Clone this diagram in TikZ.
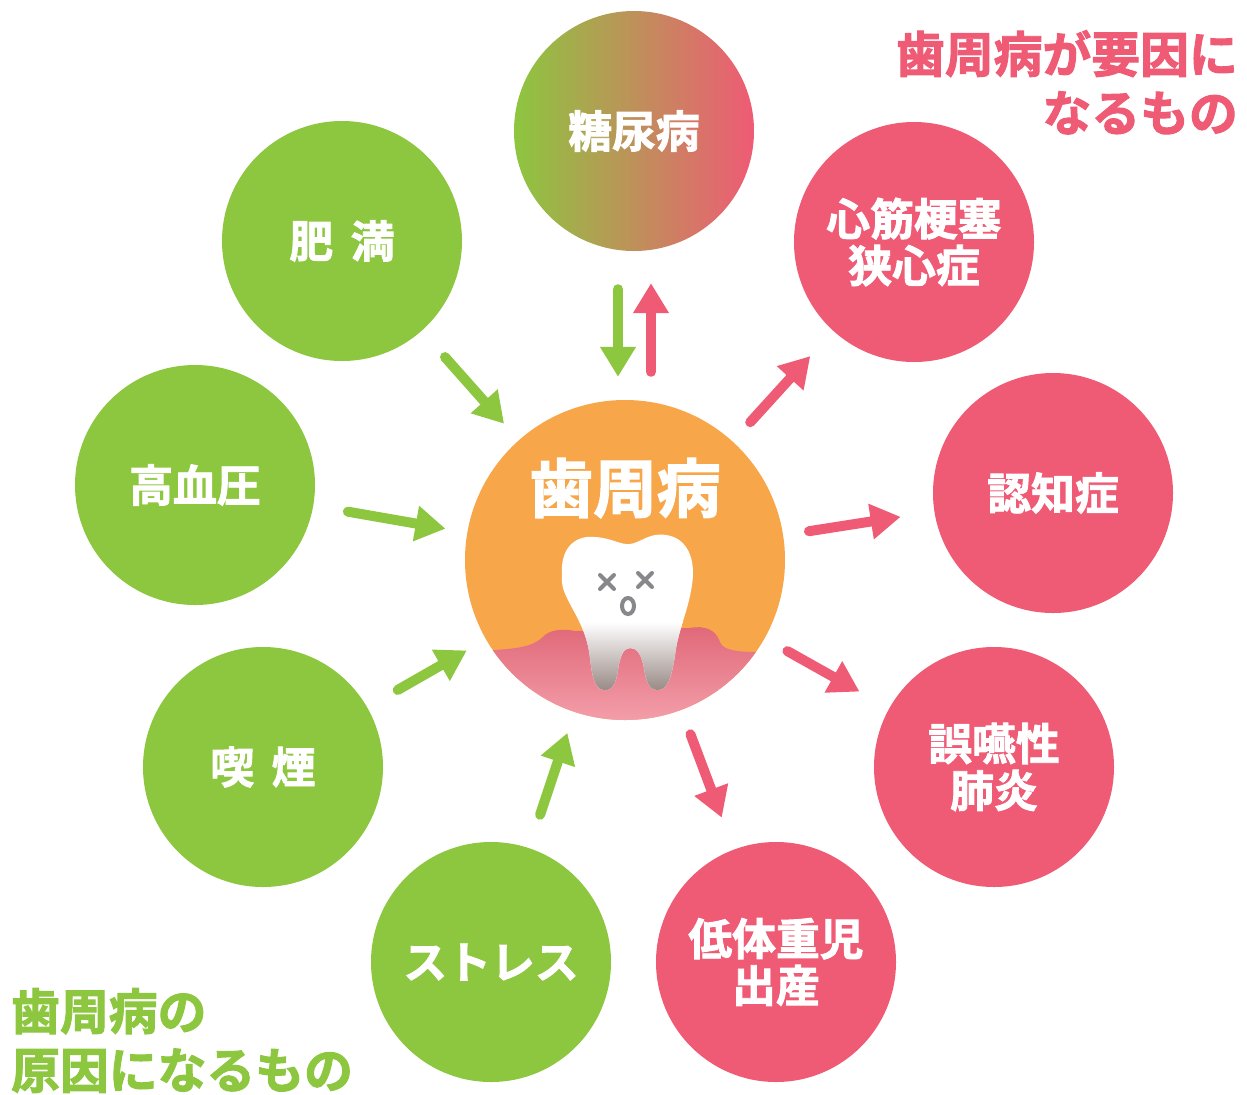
\documentclass[tikz,border=0pt]{standalone}
\usepackage{fontspec}
\setmainfont{Noto Sans CJK JP}[BoldFont={Noto Sans CJK JP Bold}, BoldFeatures={FakeBold=2}]
\usetikzlibrary{arrows.meta}
\definecolor{grn}{RGB}{141,198,63}
\definecolor{pnk}{RGB}{239,91,117}
\definecolor{orng}{RGB}{248,166,74}
\definecolor{gum}{RGB}{224,104,120}
\definecolor{gumlt}{RGB}{244,160,172}
\definecolor{root}{RGB}{150,135,130}
\definecolor{face}{RGB}{135,135,140}
\newcommand{\toothpath}{(562,575) .. controls (560,545) and (578,535) .. (595,537)
  .. controls (612,538) and (620,545) .. (630,544)
  .. controls (640,543) and (650,532) .. (666,535)
  .. controls (688,538) and (696,560) .. (692,585)
  .. controls (688,612) and (678,630) .. (675,655)
  .. controls (672,675) and (668,690) .. (658,690)
  .. controls (648,690) and (646,680) .. (644,668)
  .. controls (641,652) and (636,648) .. (630,648)
  .. controls (624,648) and (620,655) .. (618,670)
  .. controls (616,684) and (612,691) .. (604,690)
  .. controls (594,689) and (592,675) .. (590,658)
  .. controls (587,630) and (575,615) .. (567,598)
  .. controls (563,590) and (561,583) .. (562,575) -- cycle}
\tikzset{
  ball/.style={circle, minimum size=240bp, inner sep=0pt, text=white, align=center,
    font=\bfseries\fontsize{44}{47}\selectfont},
  garrow/.style={draw=grn, line width=10bp, line cap=round, ->, shorten <=35bp, shorten >=22bp},
  parrow/.style={draw=pnk, line width=10bp, line cap=round, ->, shorten <=26bp, shorten >=34bp},
  corner/.style={inner sep=0pt, font=\bfseries\fontsize{49}{59}\selectfont}
}
\begin{document}
\begin{tikzpicture}[x=1bp, y=-1bp, >={Triangle[width=34bp,length=30bp]}]
\useasboundingbox (0,0) rectangle (1247,1095);
% outer circles
\node[ball, left color=grn, right color=pnk] (tonyo) at (634,131) {糖尿病};
\node[ball, fill=pnk] (shinkin) at (914,242) {心筋梗塞\\狭心症};
\node[ball, fill=pnk] (ninchi) at (1053,493) {認知症};
\node[ball, fill=pnk] (goen) at (994,767) {誤嚥性\\肺炎};
\node[ball, fill=pnk] (teitaiju) at (776,962) {低体重児\\出産};
\node[ball, fill=grn] (stress) at (491,962) {ストレス};
\node[ball, fill=grn] (kitsuen) at (263,767) {喫\hspace{.4em}煙};
\node[ball, fill=grn] (koketsu) at (195,485) {高血圧};
\node[ball, fill=grn] (himan) at (342,241) {肥\hspace{.4em}満};
% center circle
\node[circle, minimum size=320bp, inner sep=0pt, fill=orng] (shishu) at (625,560) {};
\begin{scope}
\clip (625,560) circle[radius=160bp];
\shade[top color=gum, bottom color=gumlt] (455,652) -- (495,650)
  .. controls (525,648) and (535,645) .. (545,635)
  .. controls (552,629) and (565,629) .. (575,631) -- (690,628)
  .. controls (705,625) and (716,630) .. (720,642)
  .. controls (723,650) and (735,652) .. (760,652)
  -- (795,652) -- (795,725) -- (455,725) -- cycle;
\end{scope}
% tooth
\fill[white] \toothpath;
\begin{scope}
\clip \toothpath;
\shade[top color=white, bottom color=root] (550,622) rectangle (700,692);
\end{scope}
\draw[face, line width=4bp, line cap=round] (600,575)--(614,589) (600,589)--(614,575)
  (638,573)--(652,587) (638,587)--(652,573);
\draw[face, line width=4bp] (628,606) ellipse[x radius=6bp, y radius=8bp];
\node[text=white, font=\bfseries\fontsize{64}{64}\selectfont] (shishutxt) at (625,488) {歯周病};
% arrows
\foreach \a in {himan,koketsu,kitsuen,stress}
{
    \draw[garrow] (\a) -- (shishu);
}
\foreach \b in {shinkin,ninchi,goen,teitaiju}
{
    \draw[parrow] (shishu) -- (\b);
}
\draw[garrow, shorten <=38bp, shorten >=23bp] ([xshift=-16bp]tonyo.south) -- ([xshift=-16bp]tonyo.south |- shishu.north);
\draw[parrow, shorten <=28bp, shorten >=32bp] ([xshift=17bp]tonyo.south |- shishu.north) -- ([xshift=17bp]tonyo.south);
% corner texts
\node[corner, text=pnk, anchor=north east, align=right] (effect) at (1238,30) {歯周病が要因に\\なるもの};
\node[corner, text=grn, anchor=north west, align=left] (cause) at (11,988) {歯周病の\\原因になるもの};
\end{tikzpicture}
\end{document}
